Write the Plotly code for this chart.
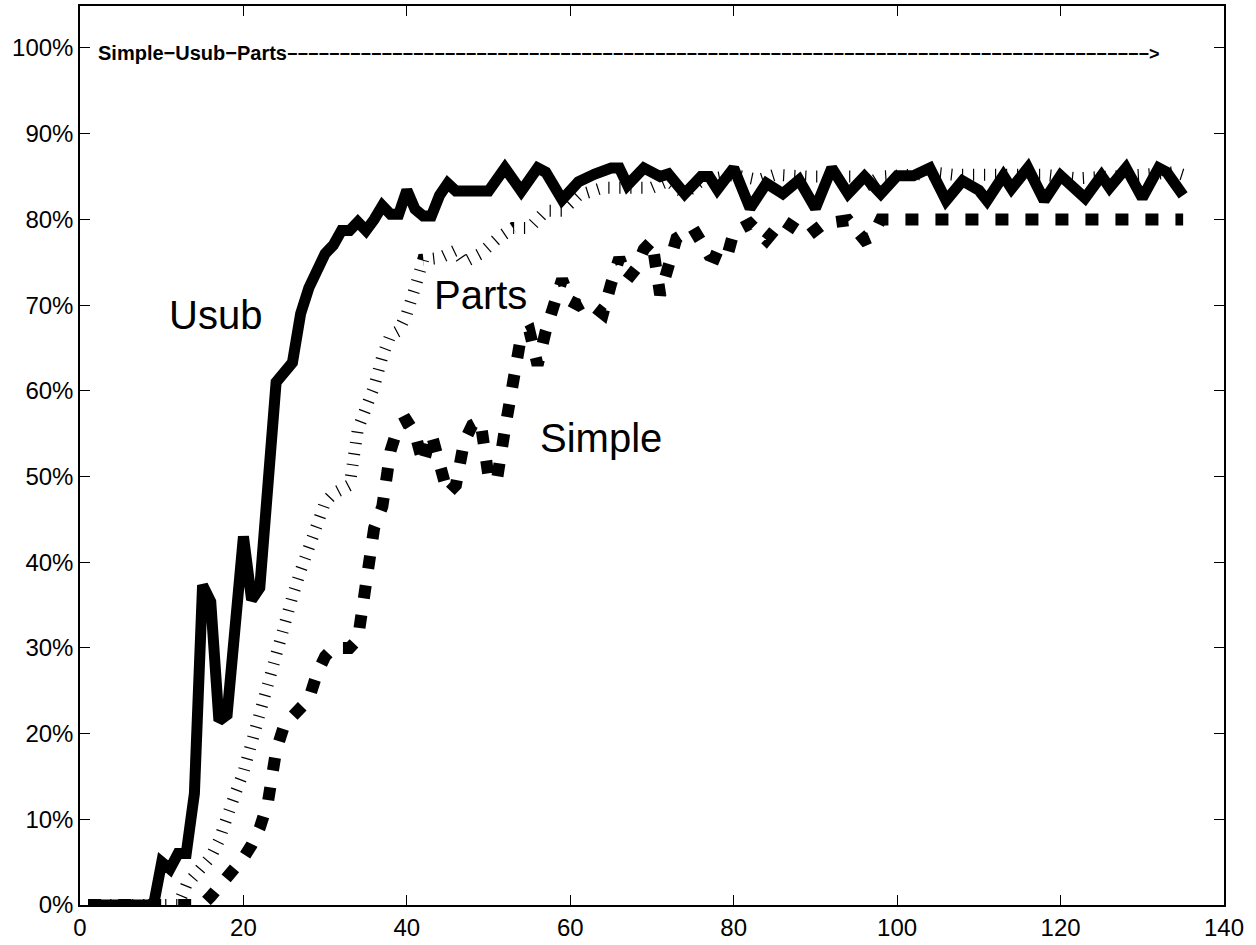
import plotly.graph_objects as go

# ---- data (x = step, y = fraction correct) ----
usub_x = [1, 9, 10, 11, 12, 13, 14, 15, 16, 17, 18, 20, 21, 22, 24, 26, 27, 28, 30, 31,
          32, 33, 34, 35, 36, 37, 38, 39, 40, 41, 42, 43, 44, 45, 46, 48, 50, 52, 54, 56,
          57, 59, 61, 63, 65, 66, 67, 69, 71, 72, 74, 76, 77, 78, 80, 82, 84, 86, 88, 90,
          92, 94, 96, 98, 100, 102, 104, 106, 108, 110, 111, 113, 114, 116, 118, 120, 123,
          125, 126, 128, 130, 132, 133, 135]
usub_y = [0.0, 0.0, 0.050, 0.042, 0.060, 0.060, 0.130, 0.373, 0.354, 0.215, 0.222, 0.430,
          0.356, 0.370, 0.610, 0.633, 0.690, 0.720, 0.760, 0.770, 0.787, 0.787, 0.797,
          0.787, 0.800, 0.816, 0.806, 0.806, 0.834, 0.812, 0.804, 0.804, 0.828, 0.842,
          0.833, 0.833, 0.833, 0.860, 0.833, 0.860, 0.855, 0.823, 0.844, 0.853, 0.860,
          0.860, 0.840, 0.860, 0.850, 0.853, 0.830, 0.850, 0.850, 0.835, 0.860, 0.813,
          0.842, 0.830, 0.846, 0.813, 0.860, 0.830, 0.850, 0.830, 0.851, 0.851, 0.860,
          0.822, 0.845, 0.834, 0.822, 0.851, 0.836, 0.860, 0.822, 0.851, 0.825, 0.851,
          0.837, 0.860, 0.825, 0.860, 0.855, 0.828]

parts_x = [1, 12, 13, 14, 15, 16, 17, 18, 19, 20, 21, 22, 23, 24, 25, 26, 27, 28, 29, 30,
           31, 33, 34, 35, 36, 37, 38, 39, 40, 41, 42, 44, 46, 47, 49, 51, 53, 55, 57, 59,
           61, 64, 70, 72, 74, 76, 78, 80, 83, 85, 89, 95, 96, 98, 105, 107, 118, 122, 130,
           134, 135]
parts_y = [0.0, 0.0, 0.023, 0.033, 0.044, 0.056, 0.075, 0.108, 0.130, 0.155, 0.190, 0.220,
           0.260, 0.290, 0.335, 0.360, 0.390, 0.415, 0.445, 0.470, 0.480, 0.490, 0.555,
           0.580, 0.605, 0.640, 0.665, 0.670, 0.690, 0.720, 0.753, 0.755, 0.764, 0.750,
           0.760, 0.777, 0.790, 0.790, 0.810, 0.810, 0.828, 0.837, 0.837, 0.845, 0.830,
           0.845, 0.850, 0.852, 0.846, 0.852, 0.850, 0.850, 0.838, 0.850, 0.854, 0.852,
           0.852, 0.848, 0.852, 0.855, 0.852]

simple_x = [1, 15, 16, 17, 18, 19, 20, 21, 22, 23, 24, 25, 26, 28, 29, 30, 31, 33, 34, 35,
            36, 37, 38, 39, 40, 41, 42, 43, 44, 45, 46, 47, 48, 49, 50, 51, 52, 53, 54, 55,
            56, 57, 58, 59, 60, 61, 62, 63, 64, 65, 66, 67, 68, 69, 70, 71, 72, 73, 75, 77,
            79, 80, 82, 84, 86, 88, 89, 91, 94, 96, 97, 98, 135]
simple_y = [0.0, 0.0, 0.010, 0.020, 0.035, 0.045, 0.055, 0.070, 0.090, 0.120, 0.180, 0.210,
            0.220, 0.240, 0.270, 0.290, 0.300, 0.300, 0.310, 0.366, 0.440, 0.465, 0.530,
            0.560, 0.565, 0.550, 0.515, 0.550, 0.515, 0.480, 0.490, 0.540, 0.560, 0.565,
            0.500, 0.495, 0.555, 0.620, 0.665, 0.670, 0.630, 0.670, 0.700, 0.730, 0.705,
            0.700, 0.705, 0.695, 0.690, 0.725, 0.755, 0.730, 0.742, 0.765, 0.775, 0.712,
            0.745, 0.778, 0.790, 0.758, 0.750, 0.785, 0.795, 0.776, 0.799, 0.785, 0.780,
            0.795, 0.799, 0.776, 0.780, 0.800, 0.800]

x_ticks = [0, 20, 40, 60, 80, 100, 120, 140]
y_ticks = [0, 0.1, 0.2, 0.3, 0.4, 0.5, 0.6, 0.7, 0.8, 0.9, 1.0]

FONT = "Liberation Sans, Arial, Helvetica, sans-serif"

fig = go.Figure()
fig.add_trace(go.Scatter(x=parts_x, y=parts_y, mode="lines", name="Parts",
                         line=dict(color="black", width=12, dash="1.2px,9.8px")))
fig.add_trace(go.Scatter(x=simple_x, y=simple_y, mode="lines", name="Simple",
                         line=dict(color="black", width=12, dash="13px,17px")))
fig.add_trace(go.Scatter(x=usub_x, y=usub_y, mode="lines", name="Usub",
                         line=dict(color="black", width=11)))

ann_font = dict(family=FONT, size=40, color="black")
fig.add_annotation(x=16.6, y=0.689, text="Usub", showarrow=False, font=ann_font,
                   xanchor="center", yanchor="middle")
fig.add_annotation(x=49.0, y=0.712, text="Parts", showarrow=False, font=ann_font,
                   xanchor="center", yanchor="middle")
fig.add_annotation(x=63.7, y=0.545, text="Simple", showarrow=False, font=ann_font,
                   xanchor="center", yanchor="middle")
arrow_text = ("<b>Simple−Usub−Parts<span style='font-size:18px'>" + "−" * 82
              + "></span></b>")
fig.add_annotation(x=1.9, y=0.994, text=arrow_text,
                   showarrow=False, font=dict(family=FONT, size=20, color="black"),
                   xanchor="left", yanchor="middle")

axis_common = dict(showline=True, linecolor="black", linewidth=1.5, mirror="allticks",
                   ticks="inside", ticklen=10, tickwidth=1.2, tickcolor="black",
                   showgrid=False, zeroline=False,
                   tickfont=dict(family=FONT, size=24, color="black"))
fig.update_xaxes(range=[0, 140], tickvals=x_ticks, **axis_common)
fig.update_yaxes(range=[0, 1.049], tickvals=y_ticks, tickformat=".0%", **axis_common)

fig.update_layout(width=1256, height=945, margin=dict(l=80, r=32, t=4, b=37),
                  paper_bgcolor="white", plot_bgcolor="white", showlegend=False)

fig.write_html("out.html")
